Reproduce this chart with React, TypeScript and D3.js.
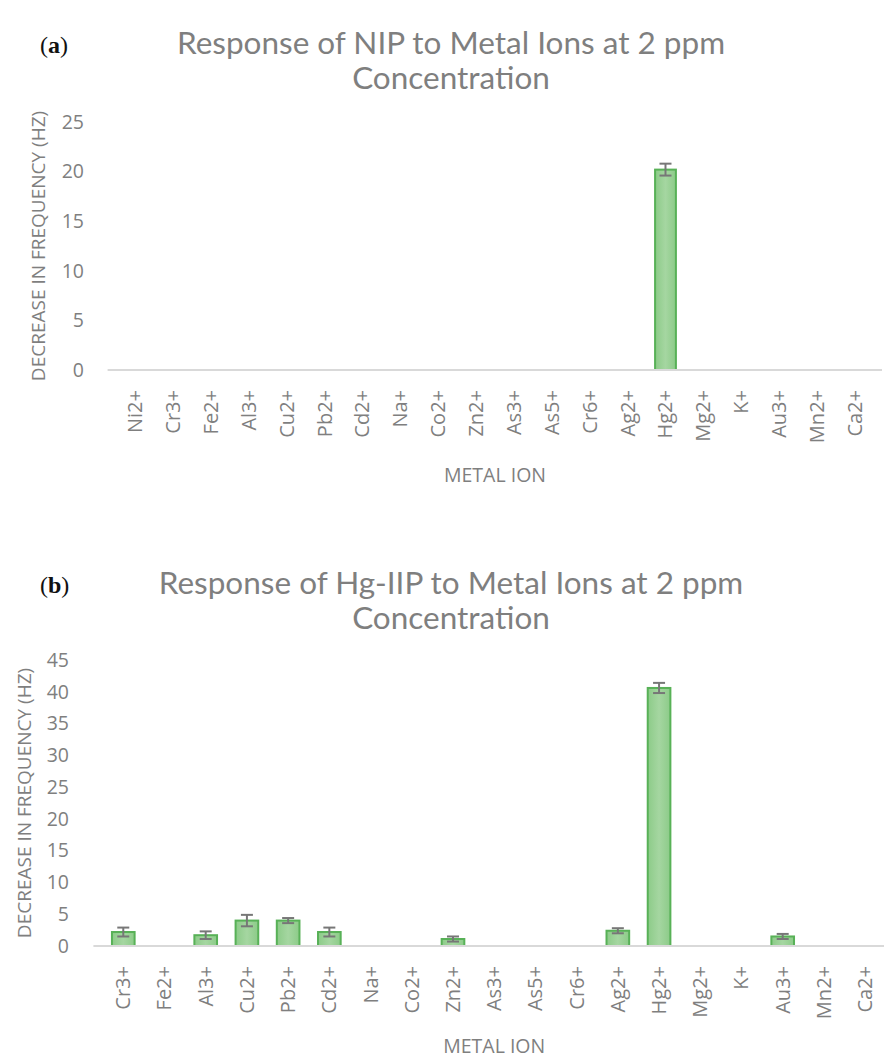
import React from 'react'
import * as d3 from 'd3'

// metal ions tested with the non-imprinted polymer (a)
const ionsNIP = ['Ni2+', 'Cr3+', 'Fe2+', 'Al3+', 'Cu2+', 'Pb2+', 'Cd2+', 'Na+', 'Co2+', 'Zn2+',
  'As3+', 'As5+', 'Cr6+', 'Ag2+', 'Hg2+', 'Mg2+', 'K+', 'Au3+', 'Mn2+', 'Ca2+']
const nipValues = [0, 0, 0, 0, 0, 0, 0, 0, 0, 0, 0, 0, 0, 0, 20.2, 0, 0, 0, 0, 0]
const nipErrors = [0, 0, 0, 0, 0, 0, 0, 0, 0, 0, 0, 0, 0, 0, 0.6, 0, 0, 0, 0, 0]
const nipTicks = [0, 5, 10, 15, 20, 25]

// metal ions tested with the Hg ion-imprinted polymer (b)
const ionsIIP = ['Cr3+', 'Fe2+', 'Al3+', 'Cu2+', 'Pb2+', 'Cd2+', 'Na+', 'Co2+', 'Zn2+', 'As3+',
  'As5+', 'Cr6+', 'Ag2+', 'Hg2+', 'Mg2+', 'K+', 'Au3+', 'Mn2+', 'Ca2+']
const iipValues = [2.2, 0, 1.7, 4.0, 4.0, 2.2, 0, 0, 1.1, 0, 0, 0, 2.4, 40.6, 0, 0, 1.5, 0, 0]
const iipErrors = [0.7, 0, 0.6, 0.9, 0.4, 0.7, 0, 0, 0.4, 0, 0, 0, 0.4, 0.8, 0, 0, 0.4, 0, 0]
const iipTicks = [0, 5, 10, 15, 20, 25, 30, 35, 40, 45]

const uiFont = '"Open Sans", "Noto Sans", sans-serif'
const titleFont = 'Lato, "Open Sans", sans-serif'
const grey = '#7f7f7f'

type PanelProps = {
  tag: string
  titleLines: string[]
  titleY: number
  ions: string[]
  values: number[]
  errors: number[]
  ticks: number[]
  top: number
  bottom: number
  left: number
  right: number
  axisEnd: number
  tickX: number
  yTitleX: number
  xTitleY: number
}

function Panel(props: PanelProps) {
  const { tag, titleLines, titleY, ions, values, errors, ticks, top, bottom, left, right,
    axisEnd, tickX, yTitleX, xTitleY } = props

  const x = d3.scaleBand().domain(ions).range([left, right]).padding(0.45)
  const y = d3.scaleLinear().domain([0, d3.max(ticks)]).range([bottom, top])
  const cap = 6
  const mid = (ion: string) => x(ion) + x.bandwidth() / 2

  return (
    <g>
      <text x={40} y={titleY + 1} fontFamily='"Liberation Serif", serif' fontSize={24} fill="#111">
        (<tspan fontWeight="bold">{tag}</tspan>)
      </text>
      {titleLines.map((t, i) => (
        <text key={i} x={451} y={titleY + 2 + i * 35} textAnchor="middle"
          fontFamily={titleFont} fontSize={31.5} fill={grey}>{t}</text>
      ))}

      {/* y axis labels */}
      {ticks.map(t => (
        <text key={t} x={tickX} y={y(t)} dy="0.35em" textAnchor="end"
          fontFamily={uiFont} fontSize={19.5} fill={grey}>{t}</text>
      ))}
      <text transform={`translate(${yTitleX}, ${(top + bottom) / 2}) rotate(-90)`} textAnchor="middle"
        dy="0.35em" fontFamily={uiFont} fontSize={19} fill={grey}>
        DECREASE IN FREQUENCY (HZ)
      </text>

      {/* bars */}
      {ions.map((ion, i) => values[i] > 0 ? (
        <rect key={ion} x={x(ion)} y={y(values[i])} width={x.bandwidth()}
          height={y(0) - y(values[i])} fill="url(#barFill)" stroke="#58b157" strokeWidth={2} />
      ) : null)}

      {/* error bars */}
      {ions.map((ion, i) => errors[i] > 0 ? (
        <g key={ion} stroke="#777" strokeWidth={2}>
          <line x1={mid(ion)} x2={mid(ion)}
            y1={y(values[i] + errors[i])} y2={y(values[i] - errors[i])} />
          <line x1={mid(ion) - cap} x2={mid(ion) + cap}
            y1={y(values[i] + errors[i])} y2={y(values[i] + errors[i])} />
          <line x1={mid(ion) - cap} x2={mid(ion) + cap}
            y1={y(values[i] - errors[i])} y2={y(values[i] - errors[i])} />
        </g>
      ) : null)}

      <line x1={left} x2={axisEnd} y1={y(0)} y2={y(0)} stroke="#d9d9d9" strokeWidth={2} />

      {/* x axis labels */}
      {ions.map(ion => (
        <text key={ion}
          transform={`translate(${mid(ion)}, ${y(0) + 20}) rotate(-90)`}
          textAnchor="end" dy="0.35em" fontFamily={uiFont} fontSize={20} fill={grey}>
          {ion}
        </text>
      ))}
      <text x={(left + right) / 2} y={xTitleY} textAnchor="middle" dy="0.35em"
        fontFamily={uiFont} fontSize={19.5} fill={grey}>METAL ION</text>
    </g>
  )
}

export default function App() {
  return (
    <svg width={884} height={1059} style={{ position: 'absolute', left: 0, top: 0, background: '#fff' }}>
      <defs>
        <linearGradient id="barFill" x1="0" x2="1" y1="0" y2="0">
          <stop offset="0%" stopColor="#8ccb88" />
          <stop offset="50%" stopColor="#a5d6a1" />
          <stop offset="100%" stopColor="#8ccb88" />
        </linearGradient>
      </defs>
      <Panel tag="a" titleLines={['Response of NIP to Metal Ions at 2 ppm', 'Concentration']}
        titleY={52} ions={ionsNIP} values={nipValues} errors={nipErrors} ticks={nipTicks}
        top={122} bottom={370} left={107.6} right={882.4} axisEnd={882} tickX={84}
        yTitleX={38} xTitleY={475} />
      <Panel tag="b" titleLines={['Response of Hg-IIP to Metal Ions at 2 ppm', 'Concentration']}
        titleY={592} ions={ionsIIP} values={iipValues} errors={iipErrors} ticks={iipTicks}
        top={660} bottom={946} left={93.4} right={895} axisEnd={884} tickX={69}
        yTitleX={24} xTitleY={1046} />
    </svg>
  )
}
